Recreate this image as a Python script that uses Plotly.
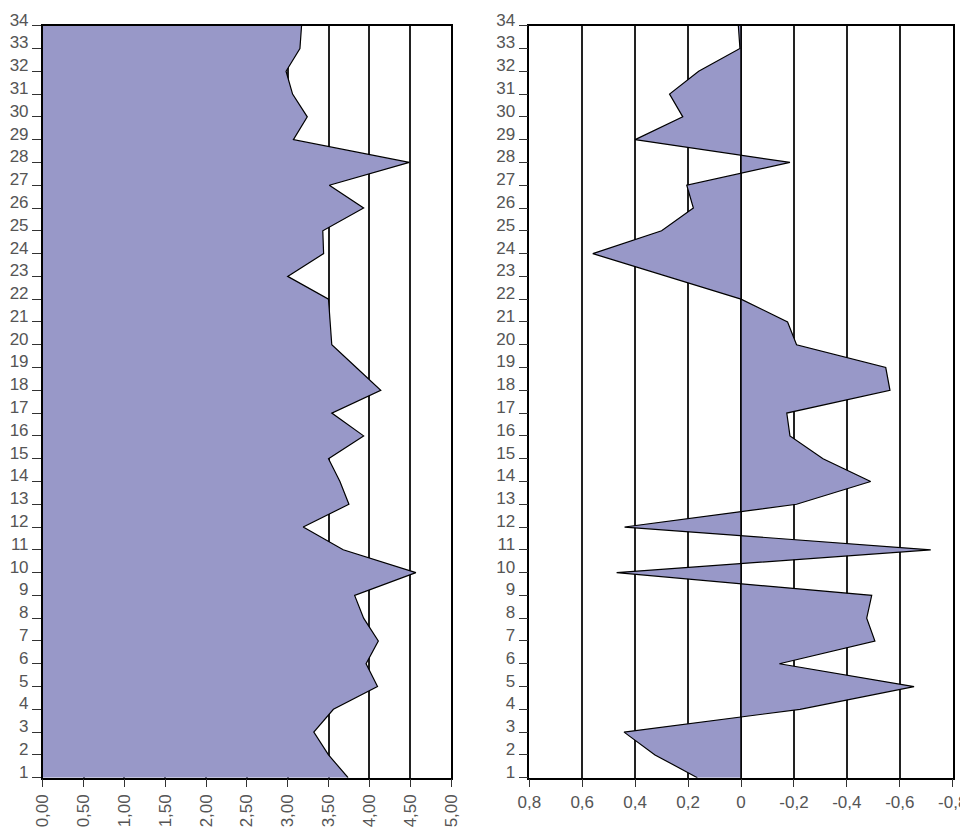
import plotly.graph_objects as go

rows = list(range(1, 35))

left_values = [3.74, 3.50, 3.32, 3.56, 4.10, 3.96, 4.11, 3.93, 3.82, 4.57,
               3.68, 3.19, 3.75, 3.64, 3.50, 3.93, 3.54, 4.14, 3.84, 3.54,
               3.52, 3.50, 3.00, 3.44, 3.43, 3.93, 3.51, 4.49, 3.07, 3.24,
               3.06, 2.98, 3.15, 3.17]

right_values = [0.165, 0.325, 0.442, -0.223, -0.654, -0.145, -0.506, -0.475, -0.494, 0.47,
                -0.717, 0.44, -0.21, -0.49, -0.31, -0.185, -0.173, -0.563, -0.547, -0.21,
                -0.176, 0.0, 0.28, 0.56, 0.30, 0.18, 0.205, -0.185, 0.40, 0.22,
                0.27, 0.16, 0.004, 0.01]

left_ticks = [0, 0.5, 1, 1.5, 2, 2.5, 3, 3.5, 4, 4.5, 5]
left_ticktext = ["0,00", "0,50", "1,00", "1,50", "2,00", "2,50", "3,00", "3,50", "4,00", "4,50", "5,00"]
right_ticks = [0.8, 0.6, 0.4, 0.2, 0, -0.2, -0.4, -0.6, -0.8]
right_ticktext = ["0,8", "0,6", "0,4", "0,2", "0", "-0,2", "-0,4", "-0,6", "-0,8"]

FILL = "#9898C8"
FONT = dict(family="Liberation Sans, Arial, sans-serif", size=17, color="#555555")

W, H = 960, 826   # page body has an 8px margin
OFF = 8


def fx(px):
    return (px - OFF) / W


def fy(px):
    return 1 - (px - OFF) / H


fig = go.Figure()
fig.add_trace(go.Scatter(x=left_values, y=rows, mode="lines", fill="tozerox",
                         fillcolor=FILL, line=dict(color="black", width=1.2),
                         xaxis="x", yaxis="y", hoverinfo="skip"))
fig.add_trace(go.Scatter(x=right_values, y=rows, mode="lines", fill="tozerox",
                         fillcolor=FILL, line=dict(color="black", width=1.2),
                         xaxis="x2", yaxis="y2", hoverinfo="skip"))

ydom = [fy(777.7), fy(25.7)]
yaxis_common = dict(range=[1, 34], tickvals=rows, ticktext=[str(r) for r in rows],
                    ticks="outside", ticklen=9, tickcolor="#333333", tickwidth=1.3,
                    showline=True, linecolor="black", linewidth=1.5, mirror=True,
                    showgrid=False, zeroline=False, tickfont=FONT, domain=ydom,
                    ticklabelshift=-6, ticklabelstandoff=0, automargin=False)

fig.update_layout(
    template="none",
    width=W, height=H,
    margin=dict(l=0, r=0, t=0, b=0, autoexpand=False),
    paper_bgcolor="white", plot_bgcolor="white",
    showlegend=False,
    xaxis=dict(domain=[fx(42.7), fx(451)], range=[0, 5], tickvals=left_ticks,
               ticktext=left_ticktext, tickangle=-90, ticks="outside", ticklen=8,
               tickcolor="#333333", tickwidth=1.3, automargin=False,
               showline=True, linecolor="black", linewidth=1.5, mirror=True,
               showgrid=True, gridcolor="#222222", gridwidth=1.6, zeroline=False,
               tickfont=FONT, anchor="y"),
    yaxis=dict(anchor="x", **yaxis_common),
    xaxis2=dict(domain=[fx(529.3), fx(952.7)], range=[0.8, -0.8], tickvals=right_ticks,
                ticktext=right_ticktext, tickangle=0, ticks="outside", ticklen=8,
                tickcolor="#333333", tickwidth=1.3, automargin=False,
                showline=True, linecolor="black", linewidth=1.5, mirror=True,
                showgrid=True, gridcolor="#222222", gridwidth=1.6, zeroline=False,
                tickfont=FONT, anchor="y2"),
    yaxis2=dict(anchor="x2", **yaxis_common),
)

fig.add_shape(type="line", xref="x2", yref="y2 domain", x0=0, x1=0, y0=0, y1=1,
              line=dict(color="black", width=1.5), layer="above")

fig.write_html("out.html")
